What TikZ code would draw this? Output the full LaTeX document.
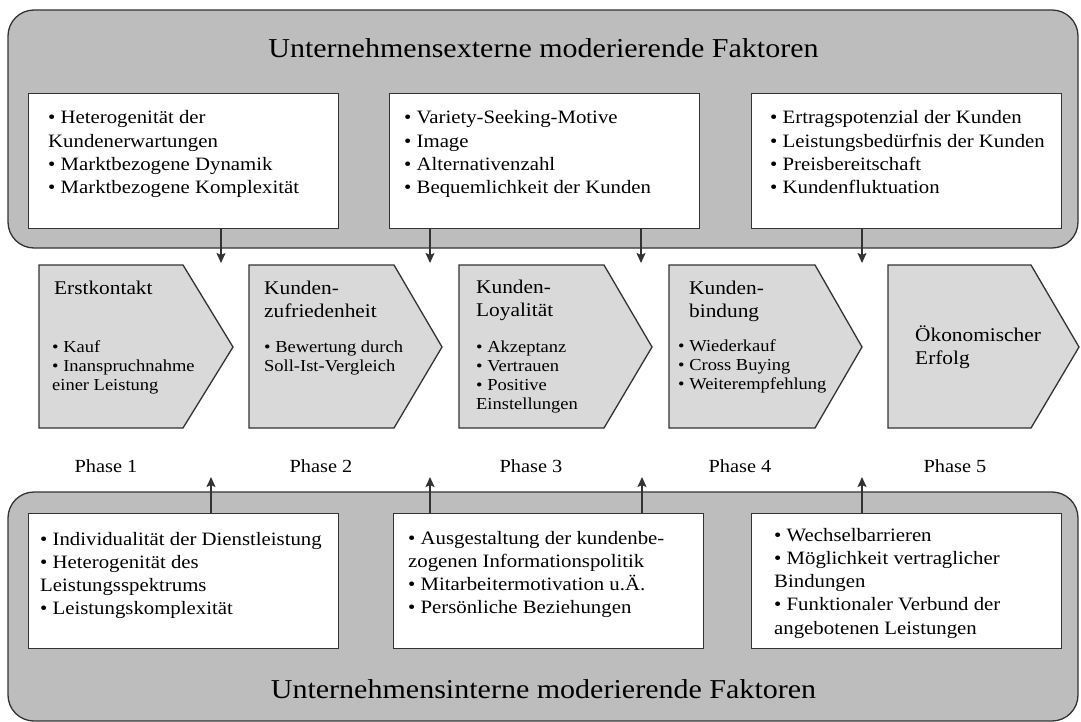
\documentclass[tikz,border=0pt]{standalone}
\usepackage{fontspec}
\setmainfont{Liberation Serif}[FakeStretch=1.1]
\usetikzlibrary{arrows.meta}

% left-aligned stack of lines whose baseline is the first line
\newcommand\linestack[1]{\begin{tabular}[t]{@{}l@{}}#1\end{tabular}}

\definecolor{panelgray}{HTML}{BDBDBD}
\definecolor{stepgray}{HTML}{D9D9D9}
\definecolor{ink}{HTML}{333333}

\begin{document}
\begin{tikzpicture}[x=1pt,y=-1pt,
  panel/.style={draw=ink, line width=1.3pt, fill=panelgray, rounded corners=26pt},
  factorbox/.style={draw=ink, line width=1.3pt, fill=white, inner sep=0pt,
    minimum width=310pt, minimum height=135pt, anchor=north west},
  factortext/.style={inner sep=0pt, anchor=base west, text=black,
    font=\fontsize{18.9}{23.3}\selectfont},
  chevron/.style={draw=ink, line width=1.3pt, fill=stepgray, line join=miter},
  stephead/.style={inner sep=0pt, anchor=base west, font=\fontsize{19.4}{23.3}\selectfont},
  stepitems/.style={inner sep=0pt, anchor=base west, font=\fontsize{16.8}{19.3}\selectfont},
  phase/.style={inner sep=0pt, anchor=base, font=\fontsize{18.5}{22}\selectfont},
  paneltitle/.style={inner sep=0pt, anchor=base, font=\fontsize{27.3}{32}\selectfont},
  influence/.style={draw=ink, line width=1.4pt, -{Stealth[length=10pt,width=9pt,inset=2pt]}}
]
\useasboundingbox (0,0) rectangle (1081,722);

% outer panels
\draw[panel] (8,10) rectangle (1078,248);
\draw[panel] (8,492) rectangle (1078,721);

\node[paneltitle] (exttitle) at (543.5,58) {Unternehmensexterne moderierende Faktoren};
\node[paneltitle] (inttitle) at (543.5,698) {Unternehmensinterne moderierende Faktoren};

% external factor boxes
\node[factorbox] (ext1) at (28,93) {};
\node[factorbox] (ext2) at (389,93) {};
\node[factorbox] (ext3) at (751,93) {};
\node[factortext] (ext1t) at (48,124) {\linestack{• Heterogenität der\\Kundenerwartungen\\• Marktbezogene Dynamik\\• Marktbezogene Komplexität}};
\node[factortext] (ext2t) at (404,124) {\linestack{• Variety-Seeking-Motive\\• Image\\• Alternativenzahl\\• Bequemlichkeit der Kunden}};
\node[factortext] (ext3t) at (770,124) {\linestack{• Ertragspotenzial der Kunden\\• Leistungsbedürfnis der Kunden\\• Preisbereitschaft\\• Kundenfluktuation}};

% internal factor boxes
\node[factorbox] (int1) at (28,513) {};
\node[factorbox] (int2) at (393,513) {};
\node[factorbox] (int3) at (751,513) {};
\node[factortext] (int1t) at (40,545) {\linestack{• Individualität der Dienstleistung\\• Heterogenität des\\Leistungsspektrums\\• Leistungskomplexität}};
\node[factortext] (int2t) at (408,544) {\linestack{• Ausgestaltung der kundenbe-\\zogenen Informationspolitik\\• Mitarbeitermotivation u.Ä.\\• Persönliche Beziehungen}};
\node[factortext] (int3t) at (774,541) {\linestack{• Wechselbarrieren\\• Möglichkeit vertraglicher\\Bindungen\\• Funktionaler Verbund der\\angebotenen Leistungen}};

% phase chevrons
\draw[chevron] (39,265) -- (183,265) -- (233,347) -- (183,428) -- (39,428) -- cycle;
\draw[chevron] (249,265) -- (394,265) -- (442,347) -- (394,428) -- (249,428) -- cycle;
\draw[chevron] (459,265) -- (604,265) -- (652,347) -- (604,428) -- (459,428) -- cycle;
\draw[chevron] (669,265) -- (815,265) -- (862,347) -- (815,428) -- (669,428) -- cycle;
\draw[chevron] (888,265) -- (1031,265) -- (1079,347) -- (1031,428) -- (888,428) -- cycle;

\node[stephead] (s1h) at (54,294) {Erstkontakt};
\node[stepitems] (s1i) at (52,352) {\linestack{• Kauf\\• Inanspruchnahme\\einer Leistung}};
\node[stephead] (s2h) at (264,294) {\linestack{Kunden-\\zufriedenheit}};
\node[stepitems] (s2i) at (264,352) {\linestack{• Bewertung durch\\Soll-Ist-Vergleich}};
\node[stephead] (s3h) at (476,293) {\linestack{Kunden-\\Loyalität}};
\node[stepitems] (s3i) at (476,352) {\linestack{• Akzeptanz\\• Vertrauen\\• Positive\\Einstellungen}};
\node[stephead] (s4h) at (689,294) {\linestack{Kunden-\\bindung}};
\node[stepitems] (s4i) at (678,351) {\linestack{• Wiederkauf\\• Cross Buying\\• Weiterempfehlung}};
\node[stephead] (s5h) at (915,341) {\linestack{Ökonomischer\\Erfolg}};

% phase labels
\node[phase] (p1) at (106,472) {Phase 1};
\node[phase] (p2) at (321,472) {Phase 2};
\node[phase] (p3) at (531,472) {Phase 3};
\node[phase] (p4) at (740,472) {Phase 4};
\node[phase] (p5) at (955,472) {Phase 5};

% influence arrows
\coordinate (e1) at (221,263);
\coordinate (e2) at (430,263);
\coordinate (e3) at (641,263);
\coordinate (e4) at (862,263);
\coordinate (i1) at (211,477);
\coordinate (i2) at (430,477);
\coordinate (i3) at (642,477);
\coordinate (i4) at (862,477);
\draw[influence] (ext1.south -| e1) -- (e1);
\draw[influence] (ext2.south -| e2) -- (e2);
\draw[influence] (ext2.south -| e3) -- (e3);
\draw[influence] (ext3.south -| e4) -- (e4);
\draw[influence] (int1.north -| i1) -- (i1);
\draw[influence] (int2.north -| i2) -- (i2);
\draw[influence] (int2.north -| i3) -- (i3);
\draw[influence] (int3.north -| i4) -- (i4);
\end{tikzpicture}
\end{document}
